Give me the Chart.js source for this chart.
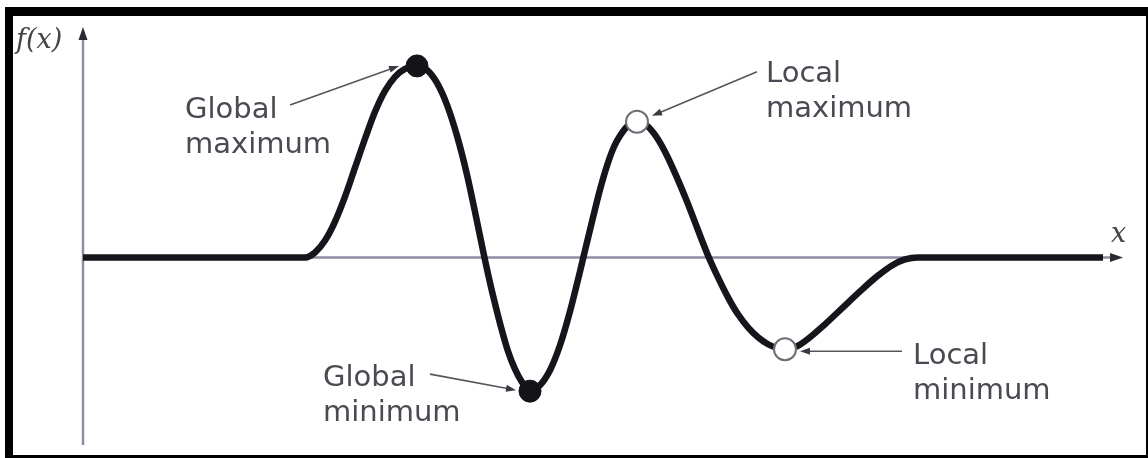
<!DOCTYPE html>
<html>
<head>
<meta charset="utf-8">
<script src="https://cdn.jsdelivr.net/npm/chart.js@4.4.1/dist/chart.umd.min.js"></script>
<style>
html,body{margin:0;padding:0;background:#fff;overflow:hidden;}
#wrap{position:absolute;left:0;top:0;width:1148px;height:458px;}
</style>
</head>
<body>
<div id="wrap"><canvas id="c" width="1148" height="458"></canvas></div>
<script>
// ---- data (x: abscissa units, y: f(x) units) ----
const curveX = [0, 10.0, 20.0, 22.2, 23.2, 24.2, 25.2, 26.2, 27.2, 28.2, 29.2, 30.2, 31.2, 32.2, 33.4,
                34.4, 35.4, 36.4, 37.4, 38.4, 39.3, 40.1, 40.9, 41.7, 42.5, 43.2, 43.9, 44.7,
                45.7, 46.7, 47.7, 48.7, 49.7, 50.2, 51.0, 51.7, 52.4, 53.1, 53.7, 54.5, 55.4,
                56.4, 57.4, 58.4, 59.4, 60.4, 61.4, 62.5, 63.5, 64.5, 65.5, 66.5, 67.5, 68.5, 69.5, 70.2,
                71.4, 72.7, 74.2, 76.0, 77.7, 79.4, 80.9, 82.2, 83.5, 92.0, 102.0];
const curveY = [0, 0, 0, 0, 0.5, 1.7, 3.6, 6.1, 9.0, 11.9, 14.6, 16.7, 18.1, 18.9, 19.2,
                18.8, 17.5, 15.3, 12.2, 8.3, 4.1, 0.2, -3.4, -6.6, -9.4, -11.2, -12.5, -13.4,
                -12.8, -11.3, -8.8, -5.4, -1.4, 0.7, 4.0, 6.8, 9.2, 11.1, 12.2, 13.2, 13.6,
                13.2, 12.0, 10.2, 8.0, 5.6, 3.0, 0.2, -2.0, -4.0, -5.7, -7.0, -8.0, -8.7, -9.1, -9.2,
                -8.9, -8.0, -6.7, -5.0, -3.4, -1.9, -0.8, -0.2, 0, 0, 0];

const extremaNames  = [["Global", "maximum"], ["Global", "minimum"], ["Local", "maximum"], ["Local", "minimum"]];
const extremaX      = [33.4, 44.7, 55.4, 70.2];
const extremaY      = [19.2, -13.4, 13.6, -9.2];
const extremaGlobal = [true, true, false, false];

const axisTitleY = "f(x)";
const axisTitleX = "x";

// ---- layout of annotation labels (pixel offsets from each marker) ----
const labelLayout = [
  { tx: -232, ty: 52,  from: [-127, 39],  to: [-18, 0] },
  { tx: -207, ty: -5,  from: [-100, -17], to: [-14, -1] },
  { tx: 129,  ty: -40, from: [120, -50],  to: [15, -6] },
  { tx: 128,  ty: 15,  from: [117, 2],    to: [15, 2] }
];

function arrowHead(ctx, x1, y1, x2, y2, len, half, color) {
  const a = Math.atan2(y2 - y1, x2 - x1);
  ctx.save();
  ctx.fillStyle = color;
  ctx.beginPath();
  ctx.moveTo(x2, y2);
  ctx.lineTo(x2 - len * Math.cos(a) + half * Math.sin(a), y2 - len * Math.sin(a) - half * Math.cos(a));
  ctx.lineTo(x2 - len * Math.cos(a) - half * Math.sin(a), y2 - len * Math.sin(a) + half * Math.cos(a));
  ctx.closePath();
  ctx.fill();
  ctx.restore();
}

const diagramPlugin = {
  id: 'diagram',
  beforeDraw(chart) {
    const ctx = chart.ctx;
    ctx.save();
    ctx.fillStyle = '#ffffff';
    ctx.fillRect(0, 0, chart.width, chart.height);
    ctx.restore();
  },
  beforeDatasetsDraw(chart) {
    const ctx = chart.ctx;
    const xs = chart.scales.x, ys = chart.scales.y;
    const ca = chart.chartArea;
    const x0 = xs.getPixelForValue(0);
    const y0 = ys.getPixelForValue(0);
    ctx.save();
    ctx.strokeStyle = '#8c8ca2';
    ctx.lineWidth = 2.5;
    ctx.beginPath();
    ctx.moveTo(x0, ca.bottom);
    ctx.lineTo(x0, ca.top + 8);
    ctx.stroke();
    ctx.beginPath();
    ctx.moveTo(x0, y0);
    ctx.lineTo(ca.right - 8, y0);
    ctx.stroke();
    ctx.restore();
  },
  afterDatasetsDraw(chart) {
    const ctx = chart.ctx;
    const xs = chart.scales.x, ys = chart.scales.y;
    const ca = chart.chartArea;
    const x0 = xs.getPixelForValue(0);
    const y0 = ys.getPixelForValue(0);

    arrowHead(ctx, x0, ca.top + 20, x0, ca.top, 13, 4.5, '#2a2a33');
    arrowHead(ctx, ca.right - 20, y0, ca.right, y0, 13, 4.5, '#2a2a33');

    ctx.save();
    ctx.fillStyle = '#444449';
    ctx.font = 'italic 27px "DejaVu Serif", "Liberation Serif", serif';
    ctx.textBaseline = 'alphabetic';
    ctx.textAlign = 'left';
    ctx.fillText(axisTitleY, 16, 48);
    ctx.fillText(axisTitleX, ca.right - 12, y0 - 15);
    ctx.restore();

    ctx.save();
    ctx.font = '29px "DejaVu Sans", sans-serif';
    ctx.fillStyle = '#4a4a53';
    ctx.textBaseline = 'alphabetic';
    ctx.textAlign = 'left';
    for (let i = 0; i < extremaX.length; i++) {
      const px = xs.getPixelForValue(extremaX[i]);
      const py = ys.getPixelForValue(extremaY[i]);
      const L = labelLayout[i];
      const lines = extremaNames[i];
      for (let j = 0; j < lines.length; j++) {
        ctx.fillText(lines[j], px + L.tx, py + L.ty + j * 35);
      }
      const sx = px + L.from[0], sy = py + L.from[1];
      const ex = px + L.to[0], ey = py + L.to[1];
      ctx.strokeStyle = '#55555e';
      ctx.lineWidth = 1.6;
      ctx.beginPath();
      ctx.moveTo(sx, sy);
      const a = Math.atan2(ey - sy, ex - sx);
      ctx.lineTo(ex - 6 * Math.cos(a), ey - 6 * Math.sin(a));
      ctx.stroke();
      arrowHead(ctx, sx, sy, ex, ey, 10, 3.5, '#3a3a44');
    }
    ctx.restore();

    ctx.save();
    ctx.fillStyle = '#000000';
    ctx.fillRect(5, 7, chart.width - 5, 9);
    ctx.fillRect(5, 7, 8, chart.height - 7);
    ctx.fillRect(chart.width - 2, 7, 2, chart.height - 7);
    ctx.fillRect(5, chart.height - 3, chart.width - 5, 3);
    ctx.restore();
  }
};

const curvePoints = curveX.map((x, i) => ({ x: x, y: curveY[i] }));
const markerPoints = extremaX.map((x, i) => ({ x: x, y: extremaY[i] }));

new Chart(document.getElementById('c'), {
  type: 'line',
  data: {
    datasets: [
      {
        label: 'extrema',
        data: markerPoints,
        showLine: false,
        order: 0,
        clip: false,
        pointRadius: 11,
        pointBackgroundColor: extremaGlobal.map(g => g ? '#141418' : '#ffffff'),
        pointBorderColor: extremaGlobal.map(g => g ? '#141418' : '#6e6e76'),
        pointBorderWidth: extremaGlobal.map(g => g ? 1 : 2),
        pointHoverRadius: 0
      },
      {
        label: 'f(x)',
        data: curvePoints,
        order: 1,
        clip: false,
        borderColor: '#15151b',
        borderWidth: 6.5,
        borderCapStyle: 'butt',
        borderJoinStyle: 'round',
        cubicInterpolationMode: 'monotone',
        pointRadius: 0,
        pointHoverRadius: 0,
        fill: false
      }
    ]
  },
  options: {
    responsive: false,
    animation: false,
    events: [],
    layout: { padding: { left: 83, right: 25, top: 27, bottom: 12 } },
    plugins: { legend: { display: false }, tooltip: { enabled: false }, title: { display: false } },
    scales: {
      x: { type: 'linear', min: 0, max: 104, display: false },
      y: { type: 'linear', min: -18.8, max: 23.1, display: false }
    }
  },
  plugins: [diagramPlugin]
});
</script>
</body>
</html>
